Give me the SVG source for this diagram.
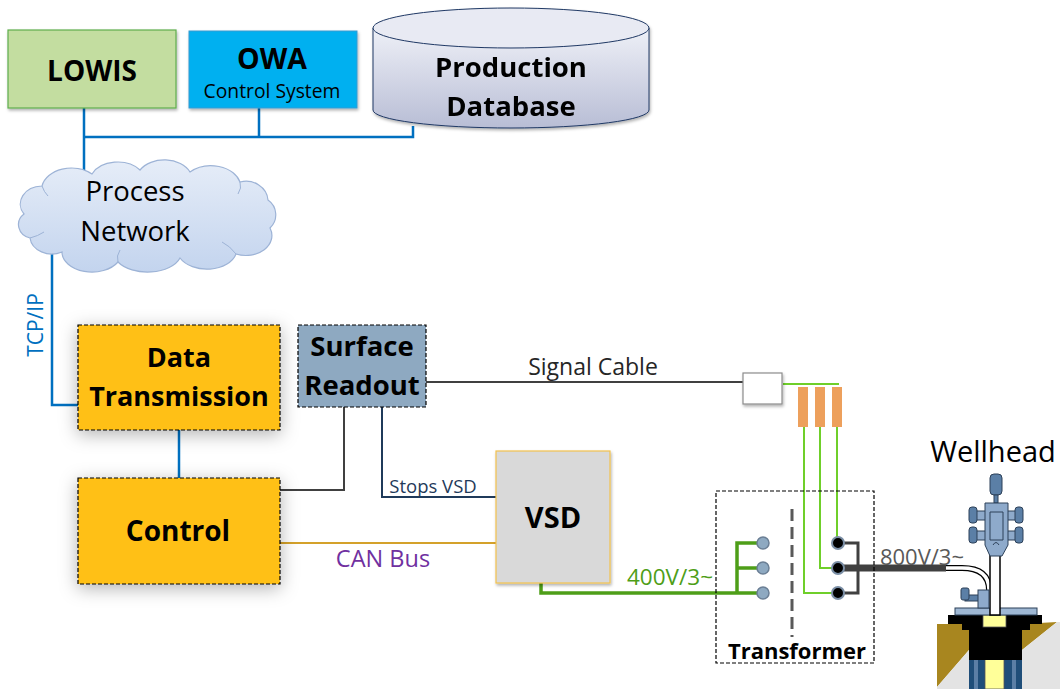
<svg xmlns="http://www.w3.org/2000/svg" width="1060" height="689" viewBox="0 0 1060 689">
  <defs>
    <linearGradient id="dbFill" x1="0" y1="0" x2="0" y2="1">
      <stop offset="0" stop-color="#eef0f7"/>
      <stop offset="1" stop-color="#b8bdd5"/>
    </linearGradient>
    <linearGradient id="cloudFill" x1="0" y1="0" x2="0" y2="1">
      <stop offset="0" stop-color="#e6edf8"/>
      <stop offset="1" stop-color="#c3d4ee"/>
    </linearGradient>
    <filter id="softShadow" x="-30%" y="-30%" width="160%" height="160%">
      <feDropShadow dx="0" dy="4" stdDeviation="9" flood-color="#000" flood-opacity="0.3"/>
    </filter>
    <filter id="smallShadow" x="-10%" y="-10%" width="130%" height="130%">
      <feDropShadow dx="1" dy="2" stdDeviation="1.5" flood-color="#000" flood-opacity="0.3"/>
    </filter>
  </defs>
  <style>
    text { font-family: "Open Sans", "Liberation Sans", sans-serif; }
    .bold { font-weight: bold; fill: #000; }
    .title { font-size: 28px; }
    .dashBox { stroke: #000; stroke-width: 1.2; stroke-dasharray: 4 2; }
    .net { fill: none; stroke: #0070c0; stroke-width: 2.5; }
    .gray { fill: none; stroke: #404040; stroke-width: 2; }
    .navy { fill: none; stroke: #1f3a5a; stroke-width: 2; }
    .can { fill: none; stroke: #d4a12a; stroke-width: 2; }
    .hv { fill: none; stroke: #4e9e18; stroke-width: 3.5; }
    .lg { fill: none; stroke: #6fcf2a; stroke-width: 2; }
    .termIn { fill: #8ea9c1; stroke: #6b7f95; stroke-width: 1.5; }
    .termOut { fill: #000; stroke: #7a8ea5; stroke-width: 2; }
    .steel { fill: #5b7fa6; stroke: #2d4159; stroke-width: 1; }
    .steelLt { fill: #8eaacb; stroke: #2d4159; stroke-width: 1; }
  </style>

  <!-- connectors -->
  <g id="connectors">
    <!-- process network bus -->
    <path class="net" d="M84,108 V174 M84,137 H413 V126 M259,108 V137"/>
    <path class="net" d="M52,250 V405 H78"/>
    <path class="net" d="M179,430 V478"/>
    <!-- surface readout links -->
    <path class="gray" d="M426,382 H743"/>
    <path class="gray" d="M344,407 V490 H280"/>
    <path class="navy" d="M382,407 V497 H496"/>
    <!-- CAN bus -->
    <path class="can" d="M280,543 H496"/>
    <!-- 400 V feed into transformer primary -->
    <path class="hv" d="M541,583 V593 H763 M737,593 V543 H763 M737,568 H763"/>
    <!-- sensor lines from choke bank to secondary -->
    <path class="lg" d="M783,384 H839"/>
    <path class="lg" d="M837,427 V543"/>
    <path class="lg" d="M820,427 V568 H838"/>
    <path class="lg" d="M804,427 V593 H838"/>
    <!-- secondary star point and 800 V cable -->
    <path fill="none" stroke="#404040" stroke-width="3" d="M838,543 H858 V593 H838"/>
    <path fill="none" stroke="#404040" stroke-width="7" d="M838,568 H946"/>
    <path fill="none" stroke="#000" stroke-width="6" d="M946,568 H962 Q989,568 989,590 V612"/>
    <path fill="none" stroke="#fff" stroke-width="3.5" d="M946,568 H962 Q989,568 989,590 V612"/>
  </g>

  <g id="text-labels">
    <text x="35" y="325" transform="rotate(-90 35 325)" text-anchor="middle" dominant-baseline="central" font-size="21" fill="#0070c0">TCP/IP</text>
    <text x="593" y="375" text-anchor="middle" font-size="23" fill="#262626">Signal Cable</text>
    <text x="433" y="493" text-anchor="middle" font-size="18.5" fill="#1f3a5a">Stops VSD</text>
    <text x="383" y="567" text-anchor="middle" font-size="23.5" fill="#7030a0">CAN Bus</text>
    <text x="670" y="585" text-anchor="middle" font-size="22.5" fill="#4e9e18">400V/3~</text>
    <text x="922" y="565" text-anchor="middle" font-size="22" fill="#595959">800V/3~</text>
  </g>

  <g id="lowis">
    <rect x="8" y="30" width="168" height="78" fill="#c3dda0" stroke="#5fae4d" stroke-width="1.2" filter="url(#smallShadow)"/>
    <text x="92" y="81" text-anchor="middle" class="bold title">LOWIS</text>
  </g>

  <g id="owa">
    <rect x="189" y="31" width="168" height="77" fill="#00b0f0" stroke="#3a9ad0" stroke-width="1" filter="url(#smallShadow)"/>
    <text x="272" y="69" text-anchor="middle" class="bold" font-size="28.5">OWA</text>
    <text x="272" y="98" text-anchor="middle" font-size="19.3" fill="#000">Control System</text>
  </g>

  <g id="production-database" filter="url(#smallShadow)">
    <path d="M373,28 V110 A138,18 0 0 0 649,110 V28" fill="url(#dbFill)" stroke="#1f3864" stroke-width="1"/>
    <ellipse cx="511" cy="28" rx="138" ry="20" fill="#e8eaf3" stroke="#1f3864" stroke-width="1"/>
    <text x="511" y="77" text-anchor="middle" class="bold" font-size="27.5">Production</text>
    <text x="511" y="116" text-anchor="middle" class="bold" font-size="27.5">Database</text>
  </g>

  <g id="process-network">
    <path d="M24,214 A22,18 0 0 1 42,186 A30,22 0 0 1 92,174 A28,20 0 0 1 140,170 A28,20 0 0 1 190,172 A30,22 0 0 1 240,182 A22,20 0 0 1 268,200 A18,18 0 0 1 270,228 A26,20 0 0 1 236,254 A30,20 0 0 1 180,258 A34,20 0 0 1 118,262 A30,20 0 0 1 62,252 A22,18 0 0 1 30,238 A16,14 0 0 1 24,214 Z" fill="url(#cloudFill)" stroke="#9db3d6" stroke-width="1.2"/>
    <path d="M42,186 Q44,192 48,196 M240,182 Q242,188 238,194 M236,254 Q230,246 222,242 M118,262 Q116,256 120,250 M30,238 Q38,236 44,232" fill="none" stroke="#9db3d6" stroke-width="1"/>
    <text x="135" y="201" text-anchor="middle" font-size="27.5" fill="#000">Process</text>
    <text x="135" y="241" text-anchor="middle" font-size="27.5" fill="#000">Network</text>
  </g>

  <g id="data-transmission">
    <rect x="78" y="325" width="202" height="105" fill="#ffc012" class="dashBox" filter="url(#softShadow)"/>
    <text x="179" y="367" text-anchor="middle" class="bold" font-size="27">Data</text>
    <text x="179" y="406" text-anchor="middle" class="bold" font-size="27">Transmission</text>
  </g>

  <g id="control">
    <rect x="78" y="478" width="202" height="106" fill="#ffc012" class="dashBox" filter="url(#softShadow)"/>
    <text x="178" y="541" text-anchor="middle" class="bold title">Control</text>
  </g>

  <g id="surface-readout">
    <rect x="298" y="325" width="128" height="82" fill="#8ea9c1" class="dashBox"/>
    <text x="362" y="356" text-anchor="middle" class="bold" font-size="27.5">Surface</text>
    <text x="362" y="395" text-anchor="middle" class="bold" font-size="27.5">Readout</text>
  </g>

  <g id="vsd">
    <rect x="496" y="451" width="114" height="132" fill="#d9d9d9" stroke="#f2c14e" stroke-width="1.2" filter="url(#smallShadow)"/>
    <text x="553" y="528" text-anchor="middle" class="bold" font-size="29">VSD</text>
  </g>

  <g id="sensor-interface">
    <rect x="743" y="373" width="39" height="31" fill="#fff" stroke="#8c8c8c" stroke-width="1.2" filter="url(#smallShadow)"/>
    <rect x="798" y="387" width="10" height="40" fill="#eda05c"/>
    <rect x="815" y="387" width="10" height="40" fill="#eda05c"/>
    <rect x="832" y="387" width="10" height="40" fill="#eda05c"/>
  </g>

  <g id="transformer">
    <rect x="716" y="491" width="158" height="172" fill="none" class="dashBox"/>
    <line x1="792" y1="509" x2="792" y2="637" stroke="#595959" stroke-width="3" stroke-dasharray="12 6"/>
    <circle class="termIn" cx="763" cy="543" r="6"/>
    <circle class="termIn" cx="763" cy="568" r="6"/>
    <circle class="termIn" cx="763" cy="593" r="6"/>
    <circle class="termOut" cx="838" cy="543" r="6"/>
    <circle class="termOut" cx="838" cy="568" r="6"/>
    <circle class="termOut" cx="838" cy="593" r="6"/>
    <text x="797" y="659" text-anchor="middle" class="bold" font-size="22">Transformer</text>
  </g>

  <g id="wellhead">
    <text x="993" y="462" text-anchor="middle" font-size="29" fill="#000">Wellhead</text>
    <!-- ground -->
    <polygon points="937,624 969,624 969,650 937,687" fill="#a8861f"/>
    <polygon points="937,687 969,650 969,689 937,689" fill="#e3e3e3"/>
    <polygon points="1022,624 1057,622 1022,650" fill="#a8861f"/>
    <polygon points="1022,650 1057,622 1060,622 1060,689 1022,689" fill="#e3e3e3"/>
    <!-- casing strings -->
    <rect x="969" y="658" width="53" height="31" fill="#1f4e79"/>
    <rect x="974" y="658" width="4" height="31" fill="#5b7fa6"/>
    <rect x="1012" y="658" width="4" height="31" fill="#5b7fa6"/>
    <rect x="985" y="658" width="19" height="31" fill="#ffff99" stroke="#555" stroke-width="0.8"/>
    <!-- hanger body -->
    <polygon points="948,615 1042,615 1042,624 1030,624 1030,630 1022,630 1022,660 969,660 969,630 962,630 962,624 948,624" fill="#000"/>
    <rect x="983" y="615" width="23" height="12" fill="#ffff99" stroke="#555" stroke-width="0.8"/>
    <rect x="955" y="608" width="82" height="7" fill="#9eb7d3" stroke="#2d4159" stroke-width="1"/>
    <!-- tubing -->
    <rect x="990" y="552" width="10" height="63" fill="#fff" stroke="#000" stroke-width="1.5"/>
    <!-- side valve -->
    <rect x="965" y="595" width="14" height="6" class="steel"/>
    <rect x="961" y="588" width="8" height="12" rx="2" class="steel"/>
    <rect x="978" y="590" width="11" height="18" class="steelLt"/>
    <!-- christmas tree -->
    <rect x="990" y="474" width="12" height="21" rx="4" class="steel"/>
    <rect x="994" y="495" width="4" height="8" class="steel"/>
    <rect x="975" y="511" width="42" height="9" class="steelLt"/>
    <rect x="975" y="531" width="42" height="9" class="steelLt"/>
    <path d="M985,503 H1008 V545 L1002,556 H990 L985,545 Z" class="steelLt"/>
    <path d="M990,512 H1003 V540 H990 Z M993,545 Q996,540 999,545" fill="none" stroke="#2d4159" stroke-width="1"/>
    <rect x="969" y="507" width="8" height="16" rx="3" class="steel"/>
    <rect x="969" y="527" width="8" height="16" rx="3" class="steel"/>
    <rect x="1015" y="507" width="8" height="16" rx="3" class="steel"/>
    <rect x="1015" y="527" width="8" height="16" rx="3" class="steel"/>
  </g>
</svg>
